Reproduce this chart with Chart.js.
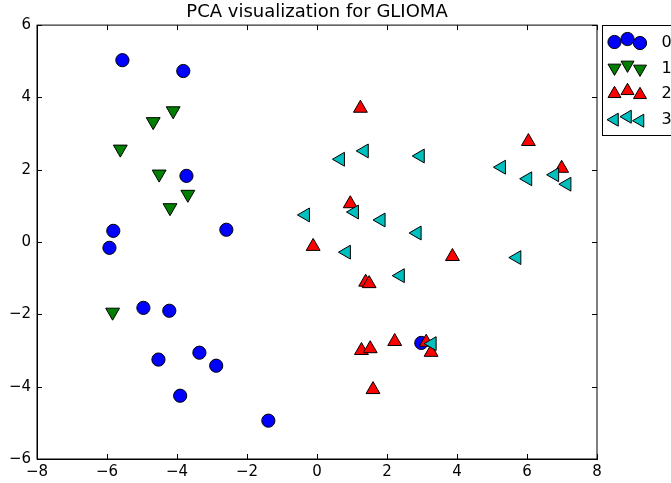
<!DOCTYPE html>
<html>
<head>
<meta charset="utf-8">
<script src="https://cdn.jsdelivr.net/npm/chart.js@4/dist/chart.umd.min.js"></script>
<style>
  html, body { margin:0; padding:0; background:#fff; }
  #wrap { width:671px; height:483px; }
</style>
</head>
<body>
<div id="wrap"><canvas id="pca" width="671" height="483"></canvas></div>
<script>
// class labels + PCA coordinates
const classNames = ["0", "1", "2", "3"];

const class0 = [
  [-5.56, 5.03], [-3.82, 4.73], [-3.73, 1.83], [-5.82, 0.31], [-5.93, -0.16],
  [-2.59, 0.34], [-4.96, -1.82], [-4.22, -1.90], [-4.53, -3.25], [-3.36, -3.06],
  [-2.88, -3.42], [-3.91, -4.25], [-1.39, -4.94], [2.98, -2.79]
];
const class1 = [
  [-5.62, 2.57], [-4.68, 3.33], [-4.11, 3.63], [-4.51, 1.88],
  [-3.69, 1.32], [-4.20, 0.95], [-5.84, -1.94]
];
const class2 = [
  [1.24, 3.70], [6.04, 2.78], [6.99, 2.04], [0.95, 1.06], [-0.11, -0.12],
  [3.87, -0.40], [1.39, -1.11], [1.49, -1.15], [2.22, -2.75], [1.27, -3.00],
  [1.52, -2.95], [1.60, -4.08], [3.12, -2.77], [3.26, -3.05]
];
const class3 = [
  [0.67, 2.29], [1.35, 2.52], [2.95, 2.38], [5.27, 2.07], [6.02, 1.75],
  [6.79, 1.86], [7.14, 1.60], [-0.33, 0.75], [1.07, 0.83], [1.83, 0.61],
  [2.86, 0.25], [0.84, -0.28], [2.38, -0.93], [5.71, -0.43], [3.29, -2.81]
];

const xTicks = [-8, -6, -4, -2, 0, 2, 4, 6, 8];
const yTicks = [-6, -4, -2, 0, 2, 4, 6];

const colors = ["#0000ff", "#008000", "#ff0000", "#00bfbf"];
const styles = [
  { pointStyle: "circle", rotation: 0, radius: 6.6 },
  { pointStyle: "triangle", rotation: 180, radius: 8 },
  { pointStyle: "triangle", rotation: 0, radius: 8 },
  { pointStyle: "triangle", rotation: 270, radius: 8 }
];
const FONT = "'DejaVu Sans', sans-serif";

const fmt = v => v < 0 ? "\u2212" + Math.abs(v) : String(v);

const allClasses = [class0, class1, class2, class3];
const datasets = allClasses.map((pts, i) => ({
  label: classNames[i],
  data: pts.map(p => ({ x: p[0], y: p[1] })),
  pointStyle: styles[i].pointStyle,
  rotation: styles[i].rotation,
  pointRadius: styles[i].radius,
  backgroundColor: colors[i],
  borderColor: "#000",
  borderWidth: 1,
  order: 3 - i   // later classes on top, like matplotlib
}));

// marker helper for the legend
function marker(ctx, st, color, x, y){
  ctx.save();
  ctx.fillStyle = color;
  ctx.strokeStyle = "#000";
  ctx.lineWidth = 1;
  ctx.beginPath();
  if(st.pointStyle === "circle"){
    ctx.arc(x, y, st.radius, 0, Math.PI*2);
  } else {
    let rad = st.rotation * Math.PI / 180;
    for(let k=0;k<3;k++){
      const px = x + Math.sin(rad)*st.radius, py = y - Math.cos(rad)*st.radius;
      k===0 ? ctx.moveTo(px, py) : ctx.lineTo(px, py);
      rad += Math.PI*2/3;
    }
    ctx.closePath();
  }
  ctx.fill(); ctx.stroke();
  ctx.restore();
}

// frame, inward ticks, and the 3-marker legend box
const framePlugin = {
  id: "frame",
  afterDraw(chart){
    const { ctx, chartArea: a, scales } = chart;
    ctx.save();
    ctx.strokeStyle = "#000";
    ctx.lineWidth = 1;
    ctx.strokeRect(a.left, a.top, a.right - a.left, a.bottom - a.top);
    ctx.beginPath();
    xTicks.forEach(v => {
      const px = Math.round(scales.x.getPixelForValue(v)) + 0.5;
      ctx.moveTo(px, a.bottom); ctx.lineTo(px, a.bottom - 5);
      ctx.moveTo(px, a.top); ctx.lineTo(px, a.top + 5);
    });
    yTicks.forEach(v => {
      const py = Math.round(scales.y.getPixelForValue(v)) + 0.5;
      ctx.moveTo(a.left, py); ctx.lineTo(a.left + 5, py);
      ctx.moveTo(a.right, py); ctx.lineTo(a.right - 5, py);
    });
    ctx.stroke();

    // legend
    const lx = 602.5, ly = 25.5, rowH = 25.9;
    ctx.strokeRect(lx, ly, 80, 110);
    const offs = [0.5, -2.5, 1.5];
    const mx = [614.5, 627.5, 640];
    ctx.font = "16px " + FONT;
    ctx.fillStyle = "#000";
    ctx.textBaseline = "middle";
    classNames.forEach((name, i) => {
      const cy = 41.5 + i * rowH;
      const st = Object.assign({}, styles[i], { radius: styles[i].pointStyle === "circle" ? 6.6 : 7.5 });
      mx.forEach((x, j) => marker(ctx, st, colors[i], x, cy + offs[j]));
      ctx.fillText(name, 661.5, cy + 1);
    });
    ctx.restore();
  }
};

new Chart(document.getElementById("pca"), {
  type: "scatter",
  data: { datasets },
  options: {
    responsive: false,
    animation: false,
    events: [],
    layout: { padding: { left: 0, right: 74, top: 0, bottom: 0 } },
    plugins: {
      legend: { display: false },
      tooltip: { enabled: false },
      title: {
        display: true,
        text: "PCA visualization for GLIOMA",
        color: "#000",
        fullSize: false,
        font: { family: FONT, size: 18, weight: "normal", lineHeight: 1.2 },
        padding: { top: 1.5, bottom: 2 }
      }
    },
    scales: {
      x: {
        type: "linear", min: -8, max: 8,
        afterBuildTicks: s => { s.ticks = xTicks.map(v => ({ value: v })); },
        afterFit: s => { s.height = 24; },
        grid: { display: false, drawTicks: false },
        border: { display: true, color: "#000", width: 1 },
        ticks: { color: "#000", padding: 4, maxRotation: 0, font: { family: FONT, size: 15 }, callback: fmt }
      },
      y: {
        type: "linear", min: -6, max: 6,
        afterBuildTicks: s => { s.ticks = yTicks.map(v => ({ value: v })); },
        afterFit: s => { s.width = 37; },
        grid: { display: false, drawTicks: false },
        border: { display: true, color: "#000", width: 1 },
        ticks: { color: "#000", padding: 6, font: { family: FONT, size: 15 }, callback: fmt }
      }
    }
  },
  plugins: [framePlugin]
});
</script>
</body>
</html>
